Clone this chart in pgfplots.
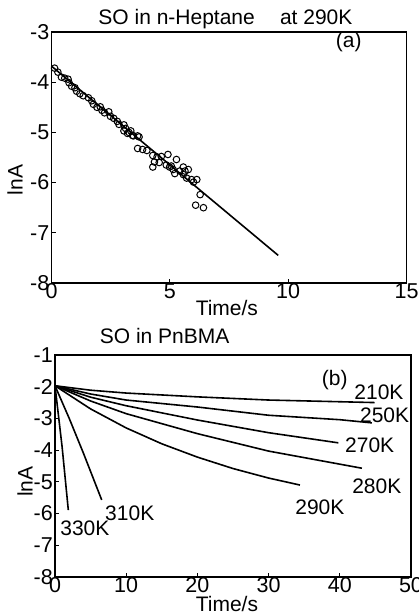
\documentclass[border=0pt]{standalone}
\usepackage{fontspec}
\setmainfont{Liberation Sans}
\usepackage{pgfplots}
\pgfplotsset{compat=1.18}

\pgfplotsset{
  panel/.style={
    scale only axis,
    anchor=south west,
    axis line style={line width=1.6pt},
    tick pos=left,
    tick align=inside,
    major tick length=4pt,
    tick style={line width=1.1pt, black},
    /pgf/number format/assume math mode=true,
    font=\fontsize{21}{24}\selectfont,
    ticklabel style={font=\fontsize{21.5}{24}\selectfont},
    xticklabel style={inner sep=0.5pt},
    yticklabel style={inner sep=2pt},
    clip=false,
  },
  curve/.style={black, line width=1.6pt},
}

\begin{document}
\begin{tikzpicture}
\path[use as bounding box] (0pt,0pt) rectangle (419pt,615pt);

% (a) n-heptane
\begin{axis}[panel,
  at={(51.5pt,332pt)}, width=355pt, height=251pt,
  xmin=0, xmax=15, ymin=-8, ymax=-3,
  xtick={0,5,10,15}, ytick={-8,-7,-6,-5,-4,-3},
  xlabel={Time/s}, ylabel={lnA},
  xlabel style={at={(rel axis cs:0.494,-0.1)}, anchor=center},
  ylabel style={at={(rel axis cs:-0.103,0.41)}, anchor=center},
]
\addplot[curve] coordinates {(0,-3.68) (9.58,-7.45)};
\addplot[only marks, mark=o, mark size=3.3pt, mark options={line width=1pt, fill=white}] table {
x y
0.13 -3.72
0.27 -3.80
0.42 -3.90
0.56 -3.92
0.70 -3.94
0.74 -4.01
0.85 -4.08
0.99 -4.11
1.06 -4.18
1.20 -4.23
1.34 -4.27
1.56 -4.31
1.70 -4.37
1.77 -4.44
1.92 -4.50
2.06 -4.49
2.13 -4.56
2.24 -4.61
2.42 -4.59
2.49 -4.68
2.63 -4.72
2.78 -4.78
2.85 -4.84
3.06 -4.85
3.13 -4.92
3.27 -5.00
3.42 -5.06
3.64 -5.07
3.06 -4.97
3.21 -5.02
3.35 -4.97
3.46 -5.07
3.70 -5.09
3.64 -5.32
3.85 -5.34
4.03 -5.36
4.28 -5.46
4.46 -5.49
4.64 -5.48
4.92 -5.44
5.28 -5.54
4.35 -5.59
4.28 -5.69
4.55 -5.60
4.85 -5.65
4.99 -5.69
5.06 -5.67
5.14 -5.74
5.21 -5.82
5.42 -5.77
5.57 -5.69
5.57 -5.84
5.64 -5.77
5.78 -5.74
5.71 -5.91
5.92 -5.94
6.00 -5.99
6.14 -5.94
6.28 -6.24
6.09 -6.45
6.42 -6.50
};
\node at (axis cs:12.56,-3.2) {(a)};
\node[anchor=base] at (rel axis cs:0.49,1.028) {SO in n-Heptane\hspace{1.2em}at 290K};
\end{axis}

% (b) PnBMA
\begin{axis}[panel,
  at={(55pt,38pt)}, width=356pt, height=222pt,
  xmin=0, xmax=50, ymin=-8, ymax=-1,
  xtick={0,10,20,30,40,50}, ytick={-8,-7,-6,-5,-4,-3,-2,-1},
  xlabel={Time/s}, ylabel={lnA},
  xlabel style={at={(rel axis cs:0.483,-0.12)}, anchor=center},
  ylabel style={at={(rel axis cs:-0.084,0.43)}, anchor=center},
]
\addplot[curve] coordinates {(0,-1.97) (5,-2.11) (10,-2.2) (20,-2.32) (30,-2.42) (44.9,-2.50)};
\addplot[curve] coordinates {(0,-1.97) (5,-2.23) (10,-2.42) (20,-2.64) (30,-2.9) (40,-3.04) (44.5,-3.14)};
\addplot[curve] coordinates {(0,-1.97) (5,-2.33) (10,-2.6) (20,-3.05) (30,-3.45) (39.8,-3.77)};
\addplot[curve] coordinates {(0,-1.97) (5,-2.45) (10,-2.85) (20,-3.48) (30,-4.03) (43.1,-4.57)};
\addplot[curve] coordinates {(0,-1.97) (5,-2.7) (10,-3.3) (15,-3.8) (20,-4.22) (25,-4.58) (30,-4.88) (34.4,-5.10)};
\addplot[curve] coordinates {(0,-1.97) (2,-3.0) (4,-4.1) (6.56,-5.57)};
\addplot[curve] coordinates {(0,-1.97) (1,-3.9) (1.87,-5.89)};
\node at (axis cs:45.5,-2.16) {210K};
\node at (axis cs:46.3,-2.89) {250K};
\node at (axis cs:44.2,-3.84) {270K};
\node at (axis cs:45.2,-5.13) {280K};
\node at (axis cs:37.2,-5.79) {290K};
\node at (axis cs:10.5,-6.0) {310K};
\node at (axis cs:4.2,-6.47) {330K};
\node at (axis cs:39.3,-1.79) {(b)};
\node[anchor=base] at (rel axis cs:0.308,1.054) {SO in PnBMA};
\end{axis}
\end{tikzpicture}
\end{document}
